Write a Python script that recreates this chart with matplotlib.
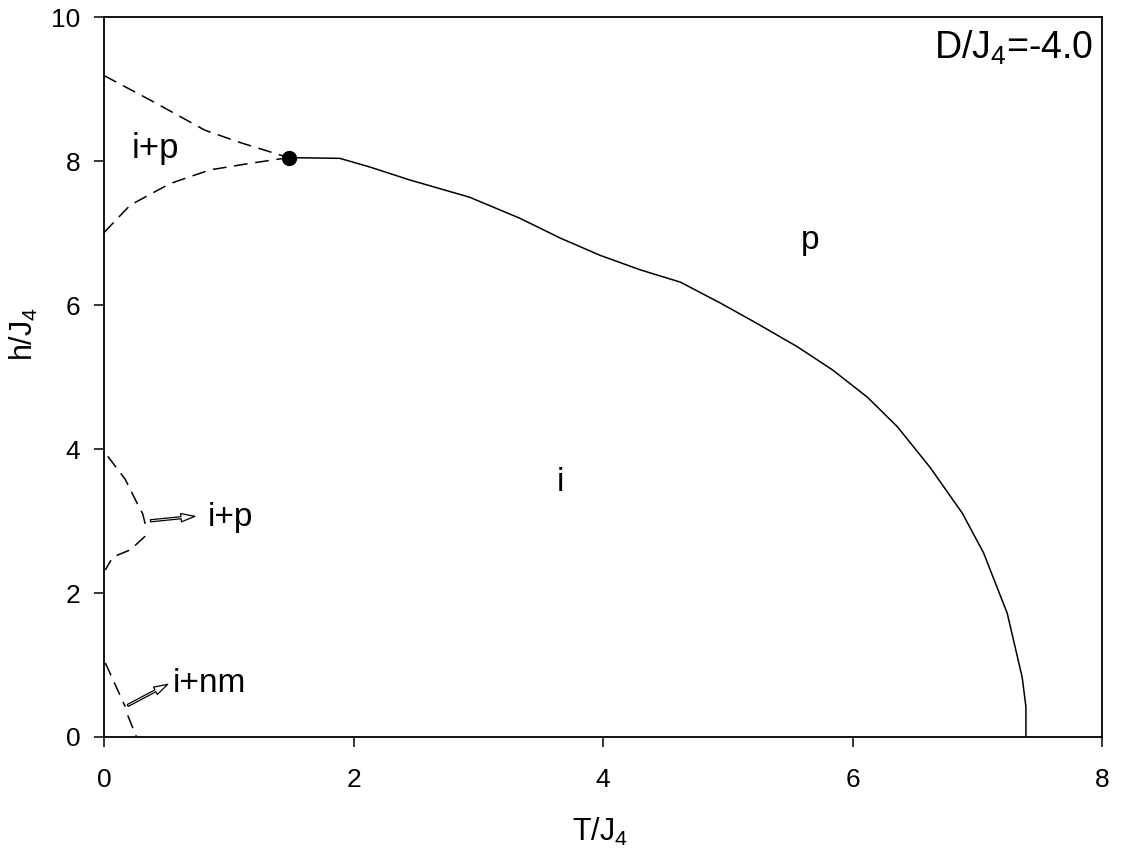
import matplotlib
matplotlib.use("Agg")
import matplotlib.pyplot as plt

plt.rcParams['font.family'] = ['Liberation Sans', 'DejaVu Sans']
plt.rcParams['mathtext.fontset'] = 'custom'
plt.rcParams['mathtext.rm'] = 'Liberation Sans'
plt.rcParams['mathtext.it'] = 'Liberation Sans'

# Main solid boundary (i / p)
solid_T = [1.48, 1.89, 2.13, 2.45, 2.93, 3.33, 3.66, 3.98, 4.30, 4.62, 4.94, 5.23,
           5.56, 5.84, 6.12, 6.36, 6.62, 6.88, 7.05, 7.24, 7.36, 7.39, 7.39]
solid_h = [8.05, 8.04, 7.92, 7.74, 7.50, 7.21, 6.93, 6.69, 6.49, 6.32, 6.03, 5.75,
           5.42, 5.10, 4.72, 4.31, 3.75, 3.11, 2.56, 1.72, 0.83, 0.42, 0.0]

# Upper i+p coexistence region
up_top_T = [0.0, 0.37, 0.81, 1.09, 1.48]
up_top_h = [9.19, 8.85, 8.43, 8.26, 8.05]
up_bot_T = [0.0, 0.21, 0.53, 0.85, 1.17, 1.48]
up_bot_h = [7.01, 7.39, 7.69, 7.88, 7.97, 8.05]

# Middle i+p region
mid_top_T = [0.03, 0.17, 0.25, 0.31, 0.33]
mid_top_h = [3.90, 3.58, 3.30, 3.10, 2.96]
mid_bot_T = [0.33, 0.21, 0.07, 0.01]
mid_bot_h = [2.79, 2.60, 2.50, 2.32]

# Low i+nm region
low_a_T = [0.01, 0.17]
low_a_h = [1.03, 0.42]
low_b_T = [0.19, 0.26]
low_b_h = [0.30, 0.0]

crit_T, crit_h = 1.48, 8.05

fig = plt.figure(figsize=(11.26, 8.64), dpi=100)
ax = fig.add_axes([0.0924, 0.147, 0.8863, 0.833])

ax.plot(solid_T, solid_h, color='black', lw=1.1)
dash = dict(color='black', lw=1.1, linestyle=(0, (9, 5)))
ax.plot(up_top_T, up_top_h, **dash)
ax.plot(up_bot_T, up_bot_h, **dash)
ax.plot(mid_top_T, mid_top_h, **dash)
ax.plot(mid_bot_T, mid_bot_h, **dash)
ax.plot(low_a_T, low_a_h, **dash)
ax.plot(low_b_T, low_b_h, **dash)
ax.plot([crit_T], [crit_h], 'o', color='black', markersize=10)

arrow = dict(arrowstyle='simple,head_length=1.0,head_width=0.6,tail_width=0.15',
             fc='white', ec='black', lw=0.9)
ax.annotate('', xy=(0.75, 3.07), xytext=(0.35, 3.0), arrowprops=arrow)
ax.annotate('', xy=(0.53, 0.75), xytext=(0.17, 0.42), arrowprops=arrow)

fs = 24
ax.text(0.41, 8.18, 'i+p', fontsize=25, ha='center', va='center')
ax.text(0.83, 3.05, 'i+p', fontsize=fs, ha='left', va='center')
ax.text(0.55, 0.75, 'i+nm', fontsize=fs, ha='left', va='center')
ax.text(5.66, 6.9, 'p', fontsize=fs, ha='center', va='center')
ax.text(3.66, 3.53, 'i', fontsize=fs, ha='center', va='center')
ax.text(7.93, 9.57, r'D/J$_4$=-4.0', fontsize=27, ha='right', va='center')

ax.set_xlim(0, 8)
ax.set_ylim(0, 10)
ax.set_xticks([0, 2, 4, 6, 8])
ax.set_yticks([0, 2, 4, 6, 8, 10])
ax.tick_params(direction='out', length=7, width=1.1, labelsize=19)
ax.tick_params(axis='x', pad=15)
ax.tick_params(axis='y', pad=10)
for s in ax.spines.values():
    s.set_linewidth(1.3)
ax.set_xlabel(r'T/J$_4$', fontsize=22)
ax.set_ylabel(r'h/J$_4$', fontsize=22)
ax.xaxis.set_label_coords(0.497, -0.11)
ax.yaxis.set_label_coords(-0.064, 0.56)

fig.savefig('out.png', dpi=100)
